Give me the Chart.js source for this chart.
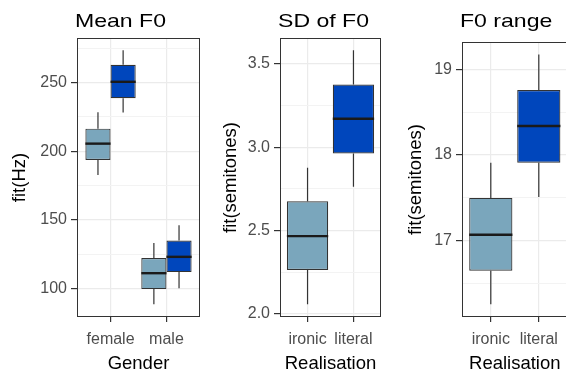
<!DOCTYPE html>
<html>
<head>
<meta charset="utf-8">
<script src="https://cdn.jsdelivr.net/npm/chart.js@4"></script>
<style>
  html, body { margin: 0; padding: 0; background: #fff; overflow: hidden; }
  #wrap { position: relative; width: 566px; height: 372px; overflow: hidden; }
  #wrap canvas { position: absolute; left: 0; top: 0; }
</style>
</head>
<body>
<div id="wrap">
  <canvas id="meanChart" width="570" height="380"></canvas>
  <canvas id="sdChart" width="570" height="380"></canvas>
  <canvas id="rangeChart" width="570" height="380"></canvas>
</div>
<script>
// categories
const genderLabels = ['female', 'male'];
const realisationLabels = ['ironic', 'literal'];

// box stats: [lower whisker, Q1, median, Q3, upper whisker]
const meanF0Ironic = [[182.6, 193.6, 205.5, 216.4, 228.4], [88.6, 99.6, 111.2, 122.2, 133.1]];
const meanF0Literal = [[228.1, 238.6, 250.5, 262.9, 273.4], [100.3, 112.0, 123.1, 135.0, 146.0]];
const sdF0 = [[2.056, 2.262, 2.466, 2.675, 2.876], [2.762, 2.962, 3.171, 3.376, 3.582]];
const rangeF0 = [[16.26, 16.65, 17.07, 17.50, 17.91], [17.51, 17.91, 18.34, 18.76, 19.175]];

// y grid lines (majors get labels)
const meanTicks = [100, 125, 150, 175, 200, 225, 250, 275];
const sdTicks = [2.0, 2.25, 2.5, 2.75, 3.0, 3.25, 3.5];
const rangeTicks = [16.5, 17, 17.5, 18, 18.5, 19];

const ironicColor = '#7AA6BC';
const literalColor = '#0046BC';
const FONT = "'Liberation Sans', Arial, sans-serif";
const W = 570, H = 380;

// whiskers + median for each box
const boxWhiskers = {
  id: 'boxWhiskers',
  afterDatasetsDraw(chart) {
    const ctx = chart.ctx, ys = chart.scales.y;
    chart.data.datasets.forEach((ds, di) => {
      chart.getDatasetMeta(di).data.forEach((bar, i) => {
        const s = ds.boxStats[i];
        const {x, width} = bar.getProps(['x', 'width'], true);
        ctx.save();
        ctx.strokeStyle = '#333';
        ctx.lineWidth = 1.2;
        ctx.beginPath();
        ctx.moveTo(x, ys.getPixelForValue(s[0]));
        ctx.lineTo(x, ys.getPixelForValue(s[1]));
        ctx.moveTo(x, ys.getPixelForValue(s[3]));
        ctx.lineTo(x, ys.getPixelForValue(s[4]));
        ctx.stroke();
        ctx.strokeStyle = '#1a1a1a';
        ctx.lineWidth = 2.4;
        ctx.beginPath();
        const ym = ys.getPixelForValue(s[2]);
        ctx.moveTo(x - width / 2, ym);
        ctx.lineTo(x + width / 2, ym);
        ctx.stroke();
        ctx.restore();
      });
    });
  }
};

// panel border and left-aligned panel title
const panelFrame = {
  id: 'panelFrame',
  afterDraw(chart, args, opts) {
    const {ctx, chartArea: a} = chart;
    ctx.save();
    ctx.strokeStyle = '#333';
    ctx.lineWidth = 1;
    ctx.strokeRect(a.left + 0.5, a.top + 0.5, a.right - a.left - 1, a.bottom - a.top - 1);
    ctx.fillStyle = '#000';
    ctx.font = '18.6px ' + FONT;
    ctx.textBaseline = 'alphabetic';
    ctx.translate(a.left - 2, opts.baseline);
    ctx.scale(1.24, 1);
    ctx.fillText(opts.text, 0, 0);
    ctx.restore();
  }
};

function makePanel(id, p) {
  const isMajor = v => Math.abs(v / p.major - Math.round(v / p.major)) < 1e-6;
  return new Chart(document.getElementById(id), {
    type: 'bar',
    data: { datasets: p.datasets },
    plugins: [boxWhiskers, panelFrame],
    options: {
      responsive: false,
      animation: false,
      events: [],
      layout: { padding: { left: p.yTitleLeft, right: W - p.right, top: p.top, bottom: 0 } },
      datasets: { bar: { categoryPercentage: 0.9, barPercentage: 1, borderWidth: 1.2, borderColor: '#333', borderSkipped: false } },
      plugins: {
        legend: { display: false },
        tooltip: { enabled: false },
        panelFrame: { text: p.title, baseline: p.titleBaseline }
      },
      scales: {
        x: {
          type: 'linear', min: 0.4, max: 2.6, offset: false,
          afterBuildTicks: s => { s.ticks = [{value: 1}, {value: 2}]; },
          afterFit: s => { s.height = H - p.bottom; },
          grid: { offset: false, color: '#EBEBEB', lineWidth: 1.2, tickColor: '#333', tickLength: 5, tickWidth: 1.2 },
          border: { display: false },
          ticks: { autoSkip: false, maxRotation: 0, padding: 8, color: '#4D4D4D', font: { family: FONT, size: 16 },
                   callback: (v, i) => p.xLabels[i] },
          title: { display: true, text: p.xTitle, color: '#000', font: { family: FONT, size: 18.5 }, padding: { top: 0, bottom: 5 } }
        },
        y: {
          min: p.yMin, max: p.yMax,
          afterBuildTicks: s => { s.ticks = p.yTicks.map(v => ({value: v})); },
          afterFit: s => { s.width = p.left - p.yTitleLeft; },
          grid: {
            color: c => isMajor(c.tick.value) ? '#EBEBEB' : '#F3F3F3',
            lineWidth: c => isMajor(c.tick.value) ? 1.2 : 1,
            tickColor: c => isMajor(c.tick.value) ? '#333' : 'rgba(0,0,0,0)',
            tickLength: 6, tickWidth: 1.2
          },
          border: { display: false },
          ticks: { autoSkip: false, padding: 4, color: '#4D4D4D', font: { family: FONT, size: 16 },
                   callback: v => isMajor(v) ? v.toFixed(p.decimals) : '' },
          title: { display: true, text: p.yTitle, color: '#000', font: { family: FONT, size: 18.5 }, padding: { top: 0, bottom: 0 } }
        }
      }
    }
  });
}

makePanel('meanChart', {
  title: 'Mean F0', titleBaseline: 27, xTitle: 'Gender', yTitle: 'fit(Hz)',
  xLabels: genderLabels, yTicks: meanTicks, major: 50, decimals: 0,
  yMin: 79.3, yMax: 282.4,
  left: 77, right: 200, top: 38, bottom: 317, yTitleLeft: 9,
  datasets: [
    { label: 'ironic', backgroundColor: ironicColor, boxStats: meanF0Ironic,
      data: genderLabels.map((g, i) => ({x: i + 1, y: [meanF0Ironic[i][1], meanF0Ironic[i][3]]})) },
    { label: 'literal', backgroundColor: literalColor, boxStats: meanF0Literal,
      data: genderLabels.map((g, i) => ({x: i + 1, y: [meanF0Literal[i][1], meanF0Literal[i][3]]})) }
  ]
});

makePanel('sdChart', {
  title: 'SD of F0', titleBaseline: 27, xTitle: 'Realisation', yTitle: 'fit(semitones)',
  xLabels: realisationLabels, yTicks: sdTicks, major: 0.5, decimals: 1,
  yMin: 1.98, yMax: 3.656,
  left: 280, right: 381, top: 38, bottom: 317, yTitleLeft: 220,
  datasets: [
    { label: 'SD of F0', backgroundColor: [ironicColor, literalColor], boxStats: sdF0,
      data: realisationLabels.map((r, i) => ({x: i + 1, y: [sdF0[i][1], sdF0[i][3]]})) }
  ]
});

makePanel('rangeChart', {
  title: 'F0 range', titleBaseline: 27, xTitle: 'Realisation', yTitle: 'fit(semitones)',
  xLabels: realisationLabels, yTicks: rangeTicks, major: 1, decimals: 0,
  yMin: 16.11, yMax: 19.32,
  left: 462, right: 567.6, top: 42, bottom: 317, yTitleLeft: 405,
  datasets: [
    { label: 'F0 range', backgroundColor: [ironicColor, literalColor], boxStats: rangeF0,
      data: realisationLabels.map((r, i) => ({x: i + 1, y: [rangeF0[i][1], rangeF0[i][3]]})) }
  ]
});
</script>
</body>
</html>
